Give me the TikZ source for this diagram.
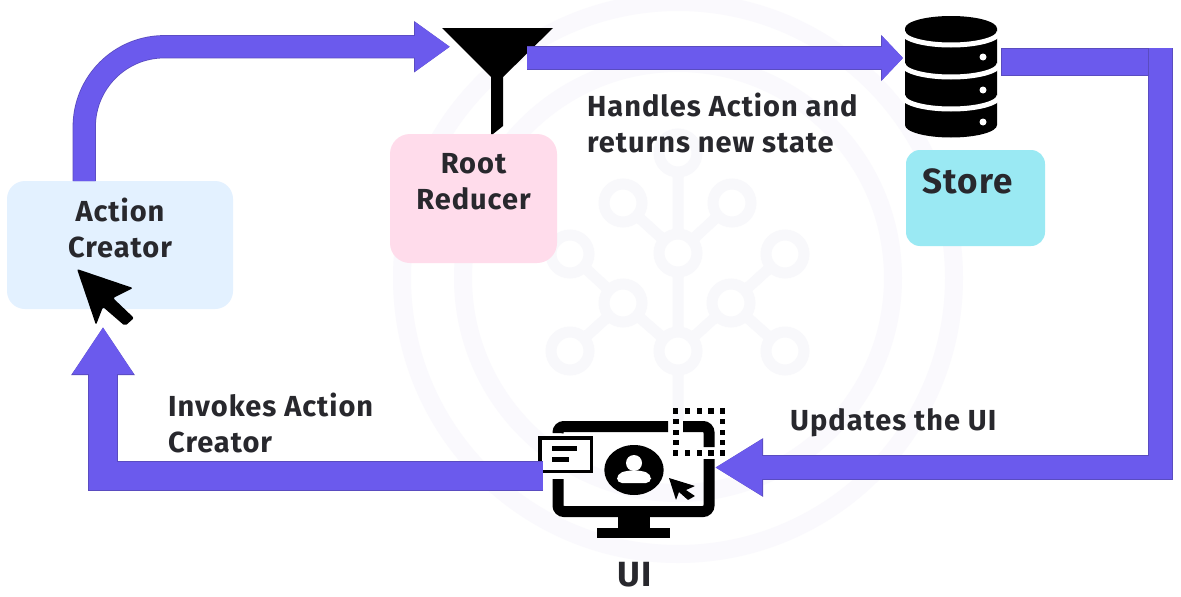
\documentclass[tikz,border=0pt]{standalone}
\usepackage{fontspec}
\setmainfont{Fira Sans}[LetterSpace=3.4]
\usetikzlibrary{arrows.meta}
\definecolor{flowfill}{HTML}{6B5AED}
\definecolor{flowedge}{HTML}{5A4CC0}
\definecolor{inkc}{HTML}{28282D}
\definecolor{markc}{HTML}{FAF9FD}
\definecolor{treec}{HTML}{F8F8FB}
\definecolor{acbox}{HTML}{E3F1FF}
\definecolor{rrbox}{HTML}{FFDCEB}
\definecolor{stbox}{HTML}{9AE9F3}
\tikzset{
  x=1pt,y=-1pt,
  lbl/.style={inner sep=0pt,text=inkc,font=\fontsize{29}{36}\selectfont\bfseries,align=left,anchor=north west},
  boxcap/.style={inner sep=0pt,text=inkc,font=\fontsize{29}{36}\selectfont\bfseries,align=center,anchor=north},
  bigtext/.style={inner sep=0pt,text=inkc,font=\fontsize{35}{36}\selectfont\bfseries},
  ringline/.style={draw=markc,line width=18pt},
  twig/.style={draw=treec,line width=11pt},
  bud/.style={draw=treec,line width=11pt,fill=white},
  icon/.style={fill=black,draw=none},
  monline/.style={draw=black,line width=11pt,rounded corners=6pt},
  hold/.style={inner sep=0pt,minimum width=#1},
}
\newcommand{\flowpath}[4]{% width, head length, head width, path
  \pgfmathsetmacro{\wa}{#1+1.2}\pgfmathsetmacro{\wb}{#1-0.4}%
  \pgfmathsetmacro{\la}{#2-1}\pgfmathsetmacro{\lb}{#3-2}%
  \draw[flowedge,line width=\wa pt,-{Triangle[length=#2pt,width=#3pt]}] #4;
  \draw[flowfill,line width=\wb pt,-{Triangle[length=\la pt,width=\lb pt]}] #4;
}
\begin{document}
\begin{tikzpicture}
\useasboundingbox (0,0) rectangle (1181,597);
\fill[white] (0,0) rectangle (1181,597);
% watermark
\coordinate (wm) at (678,278);
\draw[ringline] (wm) circle[radius=276];
\draw[ringline] (wm) circle[radius=215];
\coordinate (t0) at (678,153);
\coordinate (t1) at (623,203);
\coordinate (t2) at (732,203);
\coordinate (t3) at (678,253);
\coordinate (t4) at (570,254);
\coordinate (t5) at (785,254);
\coordinate (t6) at (623,303);
\coordinate (t7) at (731,303);
\coordinate (t8) at (570,351);
\coordinate (t9) at (678,351);
\coordinate (t10) at (785,351);
\coordinate (t11) at (678,420);
\draw[twig] (t0)--(t3) (t1)--(t3) (t2)--(t3) (t3)--(t11) (t4)--(t6) (t5)--(t7) (t6)--(t9) (t7)--(t9) (t8)--(t6) (t10)--(t7);
\foreach \n in {t0,t1,t2,t3,t4,t5,t6,t7,t8,t9,t10} \draw[bud] (\n) circle[radius=19];
% boxes
\fill[acbox,rounded corners=18pt] (7,181) rectangle (233,309);
\fill[rrbox,rounded corners=20pt] (390,134) rectangle (557,263);
\fill[stbox,rounded corners=14pt] (906,150) rectangle (1045,246);
\node[hold=226pt,minimum height=128pt] (creator) at (120,245) {};
\node[hold=167pt,minimum height=129pt] (reducer) at (473.5,198.5) {};
\node[hold=139pt,minimum height=96pt] (store) at (975.5,198) {};
% box labels
\node[boxcap] (creatortext) at (120,197.5) {Action\\Creator};
\node[boxcap] (reducertext) at (473.5,153) {Root\\Reducer};
\node[bigtext,anchor=base west] (storetext) at (922,193) {Store};
% funnel
\fill[icon] (442,28) -- (553,28) -- (503,77) -- (503,126) -- (493,134) -- (491,134) -- (491,77) -- cycle;
\node[hold=111pt,minimum height=106pt] (funnel) at (497.5,81) {};
% database
\fill[icon] (905,28.5) arc[start angle=180,end angle=360,x radius=46,y radius=12.5] -- (997,125) arc[start angle=0,end angle=180,x radius=46,y radius=12.5] -- cycle;
\foreach \yy in {32,64,96}
  \draw[white,line width=5pt] (903,\yy) arc[start angle=180,end angle=0,x radius=48,y radius=13];
\foreach \yy in {57,90,122} \fill[white] (983,\yy) circle[radius=3.5];
\node[hold=92pt,minimum height=121pt] (db) at (951,76.5) {};
% monitor
\draw[monline] (558,433) |- (668,426.5);
\draw[monline] (683,426.5) -| (709,447);
\draw[monline] (709,459) |- (558,511.5) -- (558,479);
\fill[icon] (618,517) rectangle (650,528);
\fill[icon] (597,528) rectangle (670,538);
\draw[black,fill=white,line width=3.5pt] (539.75,437.75) rectangle (591.25,471.25);
\fill[icon] (552,446) rectangle (577,451);
\fill[icon] (552,457) rectangle (569,462);
\fill[icon] (634,470) ellipse[x radius=29.7,y radius=25];
\fill[white] (634,463) circle[radius=8];
\fill[white,rounded corners=5pt] (617,483) -- (617,474) -- (627,470.5) -- (641,470.5) -- (651,474) -- (651,483) -- cycle;
\fill[icon,rounded corners=0.5pt] (669,478) -- (695,486) -- (686,490) -- (695,496) -- (688,500) -- (679,492) -- (676,500) -- cycle;
\foreach \xx in {675.7,687.7,699.3,711,722.3} {
  \fill[icon] (\xx-2.75,408.25) rectangle (\xx+2.75,413.75);
  \fill[icon] (\xx-2.75,450) rectangle (\xx+2.75,455.5);
}
\foreach \yy in {421.7,432.3,442.7} {
  \fill[icon] (673,\yy-2.75) rectangle (678.5,\yy+2.75);
  \fill[icon] (719.5,\yy-2.75) rectangle (725,\yy+2.75);
}
\node[hold=187pt,minimum height=130pt] (ui) at (631.5,473) {};
% big cursor
\fill[icon,rounded corners=2pt] (77,269) -- (133,288) -- (113,298) -- (134,318) -- (125,326) -- (103,307) -- (96,325) -- cycle;
% connector ends
\coordinate (c1a) at (84.25,181);
\coordinate (c1b) at (450,46.75);
\coordinate (c2a) at (527,58);
\coordinate (c2b) at (903,58);
\coordinate (c3a) at (1001,48);
\coordinate (c3k) at (1149,75);
\coordinate (c3c) at (1160.5,48);
\coordinate (c3b) at (715,467.5);
\coordinate (c4a) at (543,476);
\coordinate (c4b) at (103,327);
% connectors
\flowpath{22}{36}{49}{[rounded corners=80pt] (c1a) |- (c1b)}
\flowpath{22}{22}{45}{(c2a) -- (c2b)}
\draw[fill=flowfill,draw=flowedge,line width=0.8pt] (c3a) rectangle (c3k);
\flowpath{23}{48}{55}{(c3c) |- (c3b)}
\flowpath{28}{48}{60}{(c4a) -| (c4b)}
% captions
\node[lbl] (handles) at (587,92.5) {Handles Action and\\returns new state};
\node[lbl] (invokes) at (168,392.5) {Invokes Action\\Creator};
\node[lbl] (updates) at (790,408.5) {Updates the UI};
\node[bigtext,anchor=base] (uitext) at (635,586) {UI};
\end{tikzpicture}
\end{document}
